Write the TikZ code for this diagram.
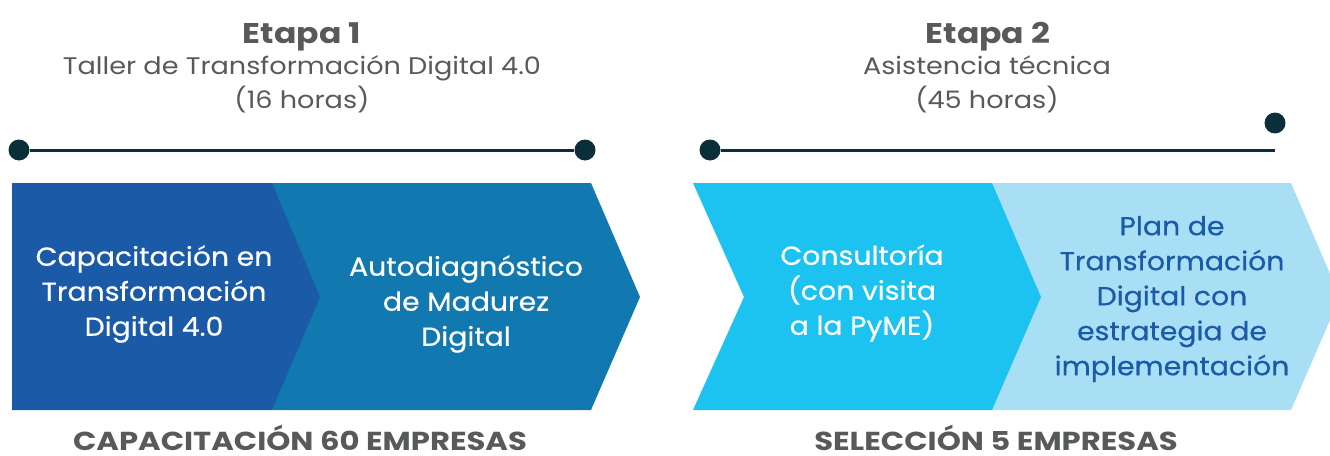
\documentclass[tikz,border=0pt]{standalone}
\usepackage{fontspec}
\setmainfont{Poppins}
\newfontfamily\boxfont[FakeStretch=1.09,FakeBold=0.5]{Poppins}
\newfontfamily\subfont[FakeStretch=1.13]{Poppins}
\newfontfamily\etfont[FakeStretch=1.16]{Poppins}
\newfontfamily\botfont[FakeStretch=1.18]{Poppins}
\definecolor{cdark}{HTML}{1A5AA6}
\definecolor{cmid}{HTML}{1279B0}
\definecolor{ccyan}{HTML}{1DC3F0}
\definecolor{clight}{HTML}{A8DFF5}
\definecolor{cline}{HTML}{0B2F3A}
\definecolor{cgray}{HTML}{58595B}
\tikzset{
  dotnode/.style={circle,fill=cline,inner sep=0pt,minimum size=21pt},
  tline/.style={cline,line width=3pt},
  boxtext/.style={align=center,inner sep=0pt,font=\boxfont\fontsize{26}{35}\selectfont,text=white},
  etapa/.style={anchor=base,inner sep=0pt,font=\etfont\fontsize{28.5}{34}\bfseries\selectfont,text=cgray},
  sub/.style={anchor=base,inner sep=0pt,font=\subfont\fontsize{24}{28}\selectfont,text=cgray},
  bottom/.style={anchor=base,inner sep=0pt,font=\botfont\fontsize{26}{30}\bfseries\selectfont,text=cgray}
}
\begin{document}
\begin{tikzpicture}[x=1pt,y=-1pt]
\useasboundingbox (0,0) rectangle (1330,455);
\begin{scope}
\clip (0,0) rectangle (1330,455);
% chevrons
\fill[cmid] (272,183)--(591,183)--(640,297)--(591,410)--(272,410)--cycle;
\fill[cdark] (12,183)--(272,183)--(320,297)--(272,410)--(12,410)--cycle;
\fill[clight] (992,183)--(1291,183)--(1340,297)--(1291,410)--(992,410)--cycle;
\fill[ccyan] (693,183)--(992,183)--(1041,297)--(992,410)--(693,410)--(744,297)--cycle;
\end{scope}
% timelines
\node[dotnode] (d1) at (19,150) {};
\node[dotnode] (d2) at (585,150) {};
\draw[tline] (d1) -- (d2);
\node[dotnode] (d3) at (710,150) {};
\coordinate (e2) at (1275,150);
\draw[tline] (d3) -- (e2);
\node[dotnode] (d4) at (1275,123) {};
% headings
\node[etapa] (et1) at (302,43) {Etapa 1};
\node[sub] (s1) at (302,74) {Taller de Transformación Digital 4.0};
\node[sub] (h1) at (302,108) {(16 horas)};
\node[etapa] (et2) at (988,43) {Etapa 2};
\node[sub] (s2) at (987,74) {Asistencia técnica};
\node[sub] (h2) at (987,108) {(45 horas)};
% box texts
\node[boxtext] (b1) at (154,294) {Capacitación en\\Transformación\\Digital 4.0};
\node[boxtext] (b2) at (466,304) {Autodiagnóstico\\de Madurez\\Digital};
\node[boxtext] (b3) at (862,293) {Consultoría\\(con visita\\a la PyME)};
\node[boxtext,text=cdark] (b4) at (1172,299) {Plan de\\Transformación\\Digital con\\estrategia de\\implementación};
% bottom labels
\node[bottom] (l1) at (300,450) {CAPACITACIÓN 60 EMPRESAS};
\node[bottom] (l2) at (996,450) {SELECCIÓN 5 EMPRESAS};
\end{tikzpicture}
\end{document}
